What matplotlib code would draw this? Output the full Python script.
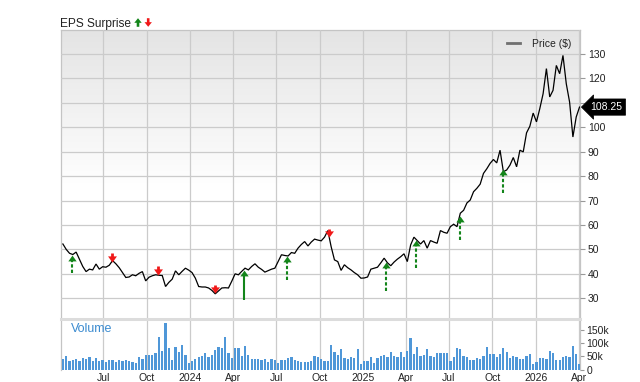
import numpy as np
import pandas as pd
import matplotlib
matplotlib.use('Agg')
import matplotlib.pyplot as plt
import matplotlib.dates as mdates
import matplotlib.transforms as mtransforms
from matplotlib.colors import LinearSegmentedColormap
from matplotlib.lines import Line2D
from matplotlib.patches import Polygon

plt.rcParams['font.family'] = ['Liberation Sans', 'DejaVu Sans']

# ---------------- data ----------------
start_date = '2023-04-07'   # weekly closes
prices = [
    52.2, 50.0, 48.4, 47.9, 48.9, 46.0, 43.0, 40.9, 41.9, 41.6,
    44.0, 41.9, 42.9, 42.7, 43.5, 45.4, 44.1, 42.5, 40.5, 38.5,
    38.7, 39.6, 39.2, 40.2, 40.9, 37.1, 38.6, 39.2, 39.6, 39.4,
    39.3, 34.8, 36.5, 37.8, 41.2, 39.6, 41.0, 42.3, 41.5, 40.5,
    38.2, 34.8, 34.6, 34.6, 34.2, 33.2, 31.8, 33.0, 34.2, 34.3,
    34.2, 37.0, 40.0, 39.6, 41.0, 42.3, 41.6, 43.0, 44.1, 42.7,
    41.8, 40.7, 41.3, 41.9, 42.3, 45.0, 47.8, 47.5, 47.3, 48.7,
    48.4, 50.5, 52.0, 53.2, 51.4, 53.0, 54.2, 53.8, 53.5, 55.0,
    57.7, 51.1, 45.7, 45.0, 41.4, 43.7, 42.5, 41.6, 40.5, 39.6,
    38.2, 38.3, 38.7, 41.9, 42.3, 42.7, 44.5, 46.4, 44.5, 43.3,
    44.8, 46.0, 47.0, 48.2, 45.0, 51.8, 55.0, 53.6, 52.2, 53.6,
    50.5, 53.6, 53.0, 52.5, 57.7, 57.0, 56.6, 59.3, 60.3, 59.3,
    64.8, 66.0, 69.0, 70.2, 73.6, 75.0, 76.7, 81.1, 83.0, 85.2,
    86.8, 85.4, 90.6, 81.8, 82.5, 84.5, 87.6, 83.8, 90.6, 89.9,
    97.7, 100.4, 105.8, 102.2, 107.6, 113.7, 124.0, 112.4, 115.1, 125.3,
    121.9, 129.4, 117.8, 110.3, 96.0, 104.2, 108.25,
]
volumes_k = [
    40, 50, 34, 36, 41, 31, 43, 41, 49, 31, 44, 31, 35, 30, 35, 35, 30, 38, 33, 35,
    34, 28, 26, 48, 39, 55, 55, 55, 63, 122, 71, 175, 81, 35, 85, 68, 93, 54, 25, 34,
    41, 46, 50, 64, 46, 54, 74, 84, 83, 123, 63, 44, 80,
    80, 50, 89, 54, 40, 39, 40, 36, 41, 29, 39, 35, 26, 38, 36, 44, 46, 35, 31, 28,
    30, 28, 33, 50, 46, 40, 31, 31, 93, 65, 56, 76, 44, 39, 49, 45, 76, 23, 31, 33,
    48, 25, 43, 51, 55, 48, 66, 53, 48, 68, 46, 69, 119, 59,
    85, 51, 55, 79, 53, 46, 61, 63, 63, 63, 34, 46, 81, 79, 50, 48, 38, 38, 44, 40,
    50, 86, 59, 59, 48, 60, 81, 68, 45, 50, 48, 39, 41, 50, 60, 23, 28, 44, 43, 41,
    70, 63, 38, 38, 49, 51, 46, 88, 60, 21,
]
eps_dates = ['2023-04-26', '2023-07-19', '2023-10-25', '2024-02-22', '2024-04-23',
             '2024-07-24', '2024-10-21', '2025-02-19', '2025-04-22', '2025-07-24',
             '2025-10-23']
eps_result = ['beat', 'miss', 'miss', 'miss', 'beat', 'beat', 'miss', 'beat', 'beat',
              'beat', 'beat']
eps_surprise = [7.2, -3.3, -3.3, -3.3, 12.0, 9.6, -3.3, 11.6, 11.6, 9.9, 9.6]
eps_confirmed = [False, True, True, True, True, False, True, False, False, False, False]
last_price = 108.25
price_ticks = [30, 40, 50, 60, 70, 80, 90, 100, 110, 120, 130]
volume_ticks = [0, 50, 100, 150]
volume_tick_labels = ['0', '50k', '100k', '150k']

# ---------------- figure ----------------
W, H = 640, 382
fig = plt.figure(figsize=(W / 100, H / 100), dpi=100)
fig.patch.set_facecolor('white')

L, R = 61, 580
P_TOP, P_BOT = 30, 319
V_TOP, V_BOT = 319, 370
ax = fig.add_axes([L / W, 1 - P_BOT / H, (R - L) / W, (P_BOT - P_TOP) / H])
axv = fig.add_axes([L / W, 1 - V_BOT / H, (R - L) / W, (V_BOT - V_TOP) / H], sharex=ax)

dates = pd.date_range(start_date, periods=len(prices), freq='7D')
xnum = mdates.date2num(dates)

GREEN = '#13851a'
RED = '#f01818'
GRID = '#cbcbcb'
SPINE = '#c4c4c4'

# gradient background: grey at top fading to white by mid-height
cmap = LinearSegmentedColormap.from_list(
    'bg', [(0.0, '#ffffff'), (0.45, '#ffffff'), (1.0, '#e4e4e4')])
grad = np.linspace(0, 1, 256).reshape(-1, 1)
ax.imshow(grad, extent=[0, 1, 0, 1], transform=ax.transAxes, cmap=cmap,
          aspect='auto', origin='lower', zorder=0)

ax.plot(dates, prices, color='black', lw=0.9, zorder=3, solid_joinstyle='miter')

ymin, ymax = 21.5, 139.8
ax.set_ylim(ymin, ymax)
xlo, xhi = pd.Timestamp('2023-04-03'), pd.Timestamp('2026-04-04')
ax.set_xlim(xlo, xhi)

ppu = (P_BOT - P_TOP) / (ymax - ymin)   # pixels per dollar

def px(n):
    return n / ppu

head_marker_up = [(-1, -0.7), (1, -0.7), (0, 0.7)]
head_marker_dn = [(-1, 0.7), (1, 0.7), (0, -0.7)]

for d, res, s, conf in zip(eps_dates, eps_result, eps_surprise, eps_confirmed):
    xd = mdates.date2num(pd.Timestamp(d))
    p = np.interp(xd, xnum, prices)
    if res == 'beat':
        tip = p - 0.4
        base = tip - abs(s)
        ls = '-' if conf else (0, (1.6, 1.0))
        ax.plot([xd, xd], [base, tip - px(4.5)], color=GREEN, lw=1.5, ls=ls,
                solid_capstyle='butt', dash_capstyle='butt', zorder=4)
        ax.plot(xd, tip - px(2.5), marker=head_marker_up, ms=6.0, color=GREEN,
                mec=GREEN, mew=0, zorder=5)
    else:
        tip = p + 0.3
        ax.plot([xd, xd], [tip + px(4.5), tip + abs(s)], color=RED, lw=2.0,
                solid_capstyle='butt', zorder=4)
        ax.plot(xd, tip + px(2.6), marker=head_marker_dn, ms=6.4, color=RED,
                mec=RED, mew=0, zorder=5)

# grid / axes styling
for a in (ax, axv):
    a.xaxis.set_major_locator(mdates.MonthLocator(bymonth=[1, 4, 7, 10]))
    a.grid(True, axis='x', color=GRID, lw=0.9, zorder=1)
    for sp in a.spines.values():
        sp.set_color(SPINE)
        sp.set_linewidth(0.9)
ax.grid(True, axis='y', color=GRID, lw=0.9, zorder=1)
ax.set_axisbelow(False)
for gl in ax.get_xgridlines() + ax.get_ygridlines():
    gl.set_zorder(1)

ax.yaxis.tick_right()
ax.set_yticks(price_ticks)
# the label under the last-price tag is hidden, as in the original
ax.set_yticklabels(['' if abs(t - last_price) < 5 else str(t) for t in price_ticks])
ax.tick_params(axis='y', which='both', length=3.5, width=0.8, color='#999999',
               pad=2.2, labelsize=7.5, labelcolor='#222222', left=False)
ax.tick_params(axis='x', length=0, labelbottom=False)


def month_fmt(x, pos=None):
    dt = mdates.num2date(x)
    return str(dt.year) if dt.month == 1 else dt.strftime('%b')

axv.xaxis.set_major_formatter(plt.FuncFormatter(month_fmt))
axv.tick_params(axis='x', length=0, pad=2.0, labelsize=7.5, labelcolor='#222222')

# volume
axv.bar(dates, volumes_k, width=4.8, color='#4f97d8', edgecolor='none', zorder=3)
axv.set_ylim(-1, 190)
axv.yaxis.tick_right()
axv.set_yticks(volume_ticks)
axv.set_yticklabels(volume_tick_labels)
axv.tick_params(axis='y', length=3, width=0.8, color='#999999', pad=1.8,
                labelsize=7.5, labelcolor='#222222', left=False)
axv.spines['top'].set_color('#dcdcdc')
axv.spines['top'].set_linewidth(2.2)
axv.spines['bottom'].set_visible(False)
axv.text((71 - L) / (R - L), 0.80, 'Volume', transform=axv.transAxes,
         color='#3b8bd0', fontsize=9, va='center', ha='left')

# legend
leg = ax.legend(handles=[Line2D([], [], color='#707070', lw=2)], labels=['Price ($)'],
                loc='upper right', bbox_to_anchor=(0.997, 0.995), frameon=False,
                fontsize=7.5, handlelength=1.3, handletextpad=1.1, borderaxespad=0.3)
for t in leg.get_texts():
    t.set_color('#222222')

# last price tag
ax.annotate(f'{last_price:.2f}', xy=(1.0, last_price), xycoords=('axes fraction', 'data'),
            xytext=(7.5, 0), textcoords='offset points', ha='left', va='center',
            color='white', fontsize=7.5, annotation_clip=False, zorder=10,
            bbox=dict(boxstyle='larrow,pad=0.3', fc='black', ec='black', lw=0.5))

# title
fig.text(60 / W, 1 - 26.7 / H, 'EPS Surprise', fontsize=8.6, color='#222222',
         ha='left', va='baseline')
pix = mtransforms.Affine2D().scale(1 / W, -1 / H).translate(0, 1) + fig.transFigure

def arrow_poly(cx, y_tip, up, color):
    s = 1 if up else -1
    hw, hh, sw, total = 3.7, 4.6, 1.3, 8.6
    pts = [(cx, y_tip),
           (cx + hw, y_tip + s * hh), (cx + sw, y_tip + s * hh),
           (cx + sw, y_tip + s * total), (cx - sw, y_tip + s * total),
           (cx - sw, y_tip + s * hh), (cx - hw, y_tip + s * hh)]
    fig.patches.append(Polygon(pts, closed=True, transform=pix, fc=color, ec='none'))

arrow_poly(138.0, 18.2, True, GREEN)
arrow_poly(148.2, 26.8, False, RED)

fig.savefig('out.png', dpi=100)
